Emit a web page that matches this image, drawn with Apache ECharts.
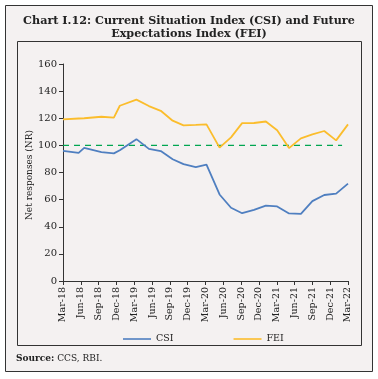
<!DOCTYPE html>
<html><head><meta charset="utf-8">
<script src="https://cdn.jsdelivr.net/npm/echarts@6/dist/echarts.min.js"></script>
<style>html,body{margin:0;padding:0;background:#fff}#c{width:378px;height:379px}</style>
</head><body><div id="c"></div>
<script>
// survey dates (approximate positions on the date axis)
const surveyDates = ['2018-03-01','2018-05-20','2018-06-18','2018-09-15','2018-11-18','2018-12-18',
  '2019-03-12','2019-05-15','2019-07-15','2019-09-15','2019-11-10','2020-01-12',
  '2020-03-06','2020-05-12','2020-07-10','2020-09-06','2020-11-06','2021-01-06',
  '2021-03-03','2021-05-03','2021-07-03','2021-09-01','2021-11-01','2022-01-01','2022-03-01'];
const csi = [96.0,94.5,98.2,95.0,94.1,96.4,104.6,97.4,95.8,89.8,86.2,84.0,
  85.8,63.8,54.0,50.0,52.4,55.6,55.0,49.8,49.5,58.9,63.4,64.4,71.8];
const fei = [119.2,119.8,120.0,121.1,120.4,129.2,133.7,129.0,125.5,118.2,114.8,115.1,
  115.5,98.3,105.9,116.4,116.5,117.6,111.2,98.0,105.2,108.1,110.6,103.7,115.5];
const tickLabels = ['Mar-18','Jun-18','Sep-18','Dec-18','Mar-19','Jun-19','Sep-19','Dec-19',
  'Mar-20','Jun-20','Sep-20','Dec-20','Mar-21','Jun-21','Sep-21','Dec-21','Mar-22'];
const refLevel = 100;
const refSpan = ['2018-03-01','2022-02-01'];

function monthsFromStart(s){
  const [y,m,d] = s.split('-').map(Number);
  return (y-2018)*12 + (m-3) + (d-1)/30;
}
const xs = surveyDates.map(monthsFromStart);
const csiData = xs.map((x,i)=>[x,csi[i]]);
const feiData = xs.map((x,i)=>[x,fei[i]]);
const refData = refSpan.map(s=>[monthsFromStart(s),refLevel]);

const serif = '"DejaVu Serif","Liberation Serif",serif';
const chart = echarts.init(document.getElementById('c'));
chart.setOption({
  backgroundColor:'#ffffff',
  animation:false,
  graphic:[
    {type:'rect',shape:{x:5.5,y:5.5,width:367,height:366},style:{fill:'#f4f1f1',stroke:'#333',lineWidth:1},z:-10},
    {type:'rect',shape:{x:17.5,y:41.5,width:344,height:304},style:{fill:'none',stroke:'#333',lineWidth:1},z:-9},
    {type:'text',left:16,top:354,style:{text:'{b|Source:} CCS, RBI.',font:'9px '+serif,fill:'#222',
      rich:{b:{fontWeight:'bold',fontFamily:serif,fontSize:9,fill:'#222'}}}},
    {type:'text',left:25,top:130,rotation:Math.PI/2,
      style:{text:'Net responses (NR)',font:'9px '+serif,fill:'#222',align:'center',verticalAlign:'middle'}}
  ],
  title:{text:'Chart I.12: Current Situation Index (CSI) and Future\nExpectations Index (FEI)',
    left:'center',top:14,padding:0,
    textStyle:{fontFamily:serif,fontWeight:'bold',fontSize:11.2,lineHeight:13.5,color:'#222'}},
  legend:{left:118,top:329,itemGap:60,itemWidth:28,itemHeight:1.6,icon:'rect',
    textStyle:{fontFamily:serif,fontSize:9.5,color:'#222'},
    data:['CSI','FEI']},
  grid:{left:63,right:30,top:64,bottom:98,containLabel:false},
  xAxis:{type:'value',min:0,max:48,interval:3,
    axisLine:{show:true,lineStyle:{color:'#333',width:1}},
    axisTick:{show:true,inside:false,length:4,lineStyle:{color:'#333'}},
    splitLine:{show:false},
    axisLabel:{rotate:90,fontFamily:serif,fontSize:9.5,color:'#222',margin:6,
      formatter:v=>tickLabels[Math.round(v/3)]}},
  yAxis:{type:'value',min:0,max:160,interval:20,
    axisLine:{show:true,lineStyle:{color:'#333',width:1}},
    axisTick:{show:true,inside:false,length:4,lineStyle:{color:'#333'}},
    splitLine:{show:false},
    axisLabel:{fontFamily:serif,fontSize:10,color:'#222',margin:6}},
  series:[
    {name:'ref',type:'line',data:refData,showSymbol:false,symbol:'none',silent:true,z:1,
      lineStyle:{color:'#00a651',type:[6,5],width:1.2},itemStyle:{color:'#00a651'}},
    {name:'CSI',type:'line',data:csiData,showSymbol:false,symbol:'none',z:2,
      lineStyle:{color:'#4f7fc0',width:1.8},itemStyle:{color:'#4f7fc0'}},
    {name:'FEI',type:'line',data:feiData,showSymbol:false,symbol:'none',z:2,
      lineStyle:{color:'#fbbd2c',width:1.8},itemStyle:{color:'#fbbd2c'}}
  ]
});
</script></body></html>
